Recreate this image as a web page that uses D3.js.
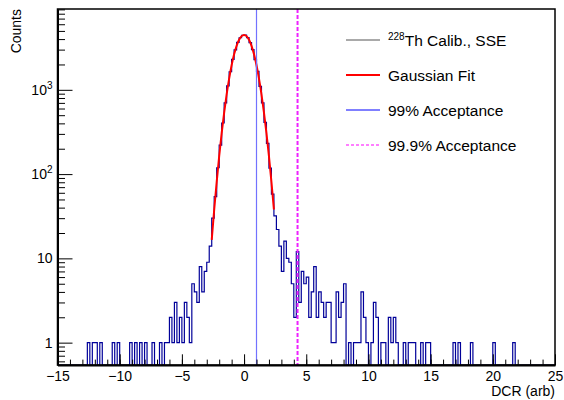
<!DOCTYPE html>
<html>
<head>
<meta charset="utf-8">
<script src="https://cdn.jsdelivr.net/npm/d3@7"></script>
<style>
  body { margin: 0; background: #fff; }
  svg { display: block; font-family: "Liberation Sans", Arial, sans-serif; }
</style>
</head>
<body>
<svg id="chart" width="564" height="400"></svg>
<script>
// DCR histogram, 0.2 wide bins from -15 to 25
const xMin = -15, xMax = 25, binWidth = 0.2;

// counts, 20 bins per row
const countsLeftTail = [
    0, 0, 0, 0, 0, 0, 0, 0, 0, 0, 0, 0, 1, 0, 1, 1, 0, 1, 0, 0,   // -15 .. -11
    0, 0, 1, 0, 1, 0, 0, 0, 0, 1, 0, 1, 0, 1, 0, 1, 0, 0, 1, 0,   // -11 .. -7
    0, 1, 0, 1, 1, 2, 1, 3, 1, 2, 1, 3, 2, 1, 5, 4, 3, 8, 4, 7    // -7 .. -3
];
const countsPeak = [
    9, 14, 30, 54, 119, 221, 404, 701, 1112, 1638,
    2301, 2979, 3650, 4149, 4437, 4448, 4162, 3630, 2994, 2283,  // -3 .. 1
    1652, 1098, 699, 412, 231, 118, 58, 32, 22, 14,
    7, 16, 10, 9, 5, 2, 12, 3, 7, 5                              // 1 .. 5
];
const countsRightTail = [
    6, 2, 4, 8, 2, 4, 3, 2, 3, 3, 1, 1, 4, 2, 3, 5, 0, 1, 0, 1,   // 5 .. 9
    1, 1, 4, 2, 1, 0, 1, 3, 2, 0, 1, 1, 0, 2, 1, 2, 1, 0, 0, 1,   // 9 .. 13
    0, 1, 1, 1, 0, 0, 1, 0, 1, 1, 0, 0, 0, 0, 0, 0, 0, 0, 0, 1,   // 13 .. 17
    0, 1, 0, 0, 0, 0, 1, 0, 0, 0, 0, 0, 0, 0, 0, 1, 0, 0, 0, 0,   // 17 .. 21
    0, 0, 0, 1, 0, 0, 0, 0, 0, 0, 0, 0, 0, 0, 0, 0, 0, 0, 0, 0    // 21 .. 25
];

// gaussian fit curve, sampled from the red line
const fitX = [-2.6, -2.4, -2.2, -2.0, -1.8, -1.6, -1.4, -1.2, -1.0, -0.8, -0.6, -0.4, -0.2, 0,
    0.2, 0.4, 0.6, 0.8, 1.0, 1.2, 1.4, 1.6, 1.8, 2.0, 2.2, 2.4];
const fitY = [16.6, 38, 81, 163, 306, 538, 884, 1360, 1957, 2637, 3325, 3924, 4334, 4480,
    4334, 3924, 3325, 2637, 1957, 1360, 884, 538, 306, 163, 81, 38];

// acceptance cuts
const cut99 = 1.0;
const cut999 = 4.3;

const xMajorTicks = [-15, -10, -5, 0, 5, 10, 15, 20, 25];
const yMajorTicks = [1, 10, 100, 1000];
const yTickBase = ["1", "10", "10", "10"];
const yTickExp = ["", "", "2", "3"];

const legendLabels = ["Th Calib., SSE", "Gaussian Fit", "99% Acceptance", "99.9% Acceptance"];

const counts = countsLeftTail.concat(countsPeak, countsRightTail);
const binEdges = d3.range(counts.length + 1).map(i => xMin + i * binWidth);

const frame = { left: 57.5, right: 555, top: 9, bottom: 365 };
const yMin = 0.543, yMax = 9100;

const svg = d3.select("#chart");

const x = d3.scaleLinear().domain([xMin, xMax]).range([frame.left, frame.right]);
const y = d3.scaleLog().domain([yMin, yMax]).range([frame.bottom, frame.top]);

svg.append("defs").append("clipPath").attr("id", "plot-clip")
    .append("rect")
    .attr("x", frame.left).attr("y", frame.top)
    .attr("width", frame.right - frame.left)
    .attr("height", frame.bottom - frame.top);

const plot = svg.append("g").attr("clip-path", "url(#plot-clip)");

// histogram outline, empty bins sit on the bottom of the frame
const histPoints = counts.map((c, i) => [binEdges[i], c]);
histPoints.push([xMax, counts[counts.length - 1]]);

const histLine = d3.line()
    .x(d => x(d[0]))
    .y(d => d[1] > 0 ? y(d[1]) : y(yMin))
    .curve(d3.curveStepAfter);

plot.append("path")
    .attr("d", histLine(histPoints))
    .attr("fill", "none")
    .attr("stroke", "#000099")
    .attr("stroke-width", 1.2);

// fit
const fitLine = d3.line()
    .x((d, i) => x(fitX[i]))
    .y(d => y(d))
    .curve(d3.curveMonotoneX);

plot.append("path")
    .attr("d", fitLine(fitY))
    .attr("fill", "none")
    .attr("stroke", "#ff0000")
    .attr("stroke-width", 2);

// cut lines
plot.append("line")
    .attr("x1", x(cut99)).attr("x2", x(cut99))
    .attr("y1", frame.top).attr("y2", frame.bottom)
    .attr("stroke", "#7272ff")
    .attr("stroke-width", 1.2);

plot.append("line")
    .attr("x1", x(cut999)).attr("x2", x(cut999))
    .attr("y1", frame.top).attr("y2", frame.bottom)
    .attr("stroke", "#ee22ff")
    .attr("stroke-width", 2)
    .attr("stroke-dasharray", "4,2");

// frame
svg.append("rect")
    .attr("x", frame.left).attr("y", frame.top)
    .attr("width", frame.right - frame.left)
    .attr("height", frame.bottom - frame.top)
    .attr("fill", "none")
    .attr("stroke", "#000")
    .attr("stroke-width", 1.5);

// x axis, ticks point into the frame
const xMinor = d3.range(xMin, xMax + 0.5, 1);

svg.append("g")
    .attr("transform", `translate(0,${frame.bottom})`)
    .call(d3.axisBottom(x).tickValues(xMinor).tickSize(-5.4).tickSizeOuter(0).tickFormat(""))
    .call(g => g.select(".domain").remove());

const xAxis = svg.append("g")
    .attr("transform", `translate(0,${frame.bottom})`)
    .call(d3.axisBottom(x).tickValues(xMajorTicks).tickSize(-10.7).tickSizeOuter(0).tickPadding(6)
        .tickFormat(d => d < 0 ? "\u2212" + Math.abs(d) : d));

xAxis.select(".domain").attr("stroke-width", 2);
xAxis.selectAll("text")
    .attr("font-size", 14)
    .attr("font-family", "Liberation Sans, Arial, sans-serif")
    .attr("fill", "#000");

// y axis, log
const yMinor = [];
[0.1, 1, 10, 100, 1000].forEach(dec => {
    for (let k = 2; k <= 9; k++) {
        const v = dec * k;
        if (v >= yMin && v <= yMax) yMinor.push(v);
    }
});

svg.append("g")
    .attr("transform", `translate(${frame.left},0)`)
    .call(d3.axisLeft(y).tickValues(yMinor).tickSize(-7.5).tickSizeOuter(0).tickFormat(""))
    .call(g => g.select(".domain").remove());

const yAxis = svg.append("g")
    .attr("transform", `translate(${frame.left},0)`)
    .call(d3.axisLeft(y).tickValues(yMajorTicks).tickSize(-15).tickSizeOuter(0).tickFormat(""));

yAxis.select(".domain").attr("stroke-width", 2);

const yLabels = svg.append("g")
    .selectAll("text")
    .data(yMajorTicks)
    .join("text")
    .attr("x", frame.left - 5)
    .attr("y", d => y(d) + 5)
    .attr("text-anchor", "end")
    .attr("font-size", 14)
    .attr("fill", "#000");

yLabels.append("tspan").text((d, i) => yTickBase[i]);
yLabels.append("tspan")
    .attr("font-size", 10)
    .attr("dy", -6)
    .text((d, i) => yTickExp[i]);

// axis titles
svg.append("text")
    .attr("x", frame.right)
    .attr("y", 396)
    .attr("text-anchor", "end")
    .attr("font-size", 14)
    .text("DCR (arb)");

svg.append("text")
    .attr("transform", `translate(21,${frame.top}) rotate(-90)`)
    .attr("text-anchor", "end")
    .attr("font-size", 14)
    .text("Counts");

// legend
const legendStyles = [
    { color: "#555", width: 1, dash: null },
    { color: "#ff0000", width: 2, dash: null },
    { color: "#0000ff", width: 1, dash: null },
    { color: "#ff00ff", width: 1.2, dash: "3,2" }
];
const legend = svg.append("g").attr("transform", "translate(346,40)");
const rowGap = 35;

legendLabels.forEach((label, i) => {
    const row = legend.append("g").attr("transform", `translate(0,${i * rowGap})`);
    const st = legendStyles[i];
    row.append("line")
        .attr("x1", 0).attr("x2", 34)
        .attr("stroke", st.color)
        .attr("stroke-width", st.width)
        .attr("stroke-dasharray", st.dash);
    const t = row.append("text")
        .attr("x", 42)
        .attr("y", 5.5)
        .attr("font-size", 15.5)
        .attr("fill", "#000");
    if (i === 0) {
        t.append("tspan").attr("font-size", 10).attr("dy", -6).text("228");
        t.append("tspan").attr("dy", 6).text(label);
    } else {
        t.text(label);
    }
});
</script>
</body>
</html>
